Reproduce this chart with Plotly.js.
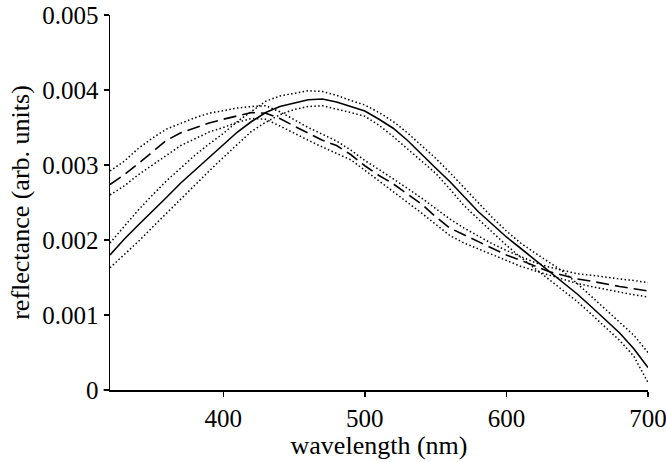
<!DOCTYPE html>
<html>
<head>
<meta charset="utf-8">
<script src="https://cdn.plot.ly/plotly-3.0.1.min.js"></script>
<style>html,body{margin:0;padding:0;background:#fff;}#chart{width:666px;height:462px;}</style>
</head>
<body>
<div id="chart"></div>
<script>
var wavelength = [320,330,340,350,360,370,380,390,400,410,420,430,440,450,460,470,480,490,500,510,520,530,540,550,560,570,580,590,600,610,620,630,640,650,660,670,680,690,700];

var solidMean = [0.00180,0.00201,0.00220,0.00238,0.00257,0.00276,0.00293,0.00310,0.00327,0.00344,0.00358,0.00370,0.00378,0.00383,0.00387,0.00388,0.00384,0.00378,0.00372,0.00361,0.00349,0.00333,0.00314,0.00296,0.00278,0.00258,0.00238,0.00221,0.00204,0.00189,0.00174,0.00159,0.00144,0.00128,0.00111,0.00094,0.00076,0.00055,0.00030];
var solidUpper = [0.00196,0.00218,0.00240,0.00260,0.00279,0.00296,0.00313,0.00328,0.00342,0.00358,0.00371,0.00385,0.00392,0.00396,0.00399,0.00398,0.00393,0.00386,0.00380,0.00370,0.00358,0.00343,0.00326,0.00309,0.00290,0.00270,0.00250,0.00230,0.00212,0.00196,0.00183,0.00171,0.00158,0.00142,0.00125,0.00108,0.00090,0.00073,0.00050];
var solidLower = [0.00163,0.00180,0.00198,0.00217,0.00236,0.00255,0.00273,0.00292,0.00310,0.00327,0.00345,0.00357,0.00367,0.00374,0.00378,0.00379,0.00375,0.00370,0.00365,0.00353,0.00338,0.00322,0.00306,0.00289,0.00268,0.00246,0.00228,0.00210,0.00193,0.00177,0.00162,0.00148,0.00133,0.00118,0.00101,0.00083,0.00066,0.00045,0.00010];

var dashedMean = [0.00274,0.00287,0.00302,0.00318,0.00333,0.00343,0.00350,0.00356,0.00361,0.00366,0.00370,0.00369,0.00362,0.00352,0.00342,0.00333,0.00326,0.00314,0.00299,0.00286,0.00275,0.00262,0.00248,0.00231,0.00216,0.00207,0.00198,0.00189,0.00180,0.00173,0.00165,0.00158,0.00153,0.00148,0.00145,0.00141,0.00138,0.00135,0.00132];
var dashedUpper = [0.00292,0.00305,0.00322,0.00336,0.00348,0.00356,0.00363,0.00369,0.00373,0.00376,0.00378,0.00379,0.00371,0.00360,0.00350,0.00341,0.00332,0.00320,0.00306,0.00294,0.00282,0.00269,0.00256,0.00242,0.00228,0.00216,0.00205,0.00195,0.00186,0.00178,0.00170,0.00164,0.00159,0.00155,0.00153,0.00150,0.00148,0.00146,0.00143];
var dashedLower = [0.00260,0.00272,0.00287,0.00300,0.00314,0.00326,0.00335,0.00344,0.00350,0.00357,0.00362,0.00361,0.00352,0.00342,0.00333,0.00324,0.00316,0.00307,0.00293,0.00279,0.00265,0.00250,0.00236,0.00221,0.00206,0.00196,0.00188,0.00181,0.00173,0.00165,0.00159,0.00153,0.00147,0.00142,0.00138,0.00134,0.00130,0.00127,0.00124];

var xTickVals = [400,500,600,700];
var xTickText = ['400','500','600','700'];
var yTickVals = [0,0.001,0.002,0.003,0.004,0.005];
var yTickText = ['0','0.001','0.002','0.003','0.004','0.005'];

function tr(y, dash, width) {
  return {x: wavelength, y: y, type: 'scatter', mode: 'lines', hoverinfo: 'skip',
          line: {color: '#000', width: width, dash: dash}};
}
var dot = '1.5px,2.4px';
var data = [
  tr(solidUpper, dot, 1.5),
  tr(solidLower, dot, 1.5),
  tr(dashedUpper, dot, 1.5),
  tr(dashedLower, dot, 1.5),
  tr(dashedMean, '13px,6px', 1.6),
  tr(solidMean, 'solid', 1.6)
];

var fam = '"Liberation Serif", "Times New Roman", serif';
var tickFont = {family: fam, size: 25, color: '#000'};
var titleFont = {family: fam, size: 26, color: '#000'};
var layout = {
  width: 666, height: 462,
  margin: {l: 110, r: 18, t: 15, b: 72},
  paper_bgcolor: '#fff', plot_bgcolor: '#fff',
  showlegend: false,
  font: tickFont,
  xaxis: {
    range: [320, 700], tickvals: xTickVals, ticktext: xTickText,
    showgrid: false, zeroline: false, showline: true, linecolor: '#000', linewidth: 1.5,
    ticks: 'outside', ticklen: 5, tickwidth: 1.5, tickcolor: '#000',
    tickfont: tickFont, ticklabeloverflow: 'allow',
    title: {text: 'wavelength (nm)', font: titleFont, standoff: 3}
  },
  yaxis: {
    range: [0, 0.005], tickvals: yTickVals, ticktext: yTickText,
    showgrid: false, zeroline: false, showline: true, linecolor: '#000', linewidth: 1.5,
    ticks: 'outside', ticklen: 5, tickwidth: 1.5, tickcolor: '#000',
    tickfont: tickFont, ticklabeloverflow: 'allow',
    title: {text: 'reflectance (arb. units)', font: titleFont, standoff: 5}
  },
  shapes: [{type: 'line', xref: 'paper', yref: 'paper', x0: -0.012, x1: 0, y0: 0, y1: 0,
            line: {color: '#000', width: 1.5}}]
};
Plotly.newPlot('chart', data, layout, {displayModeBar: false, staticPlot: true});
</script>
</body>
</html>
